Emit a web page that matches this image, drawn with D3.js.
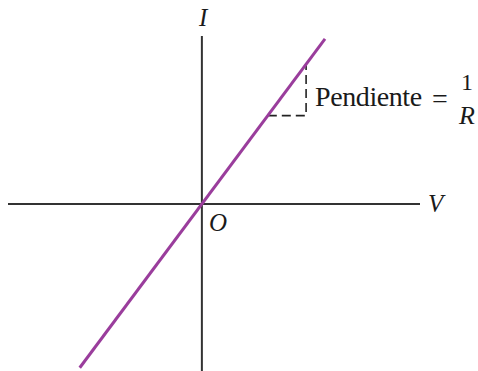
<!DOCTYPE html>
<html>
<head>
<meta charset="utf-8">
<script src="https://cdn.jsdelivr.net/npm/d3@7"></script>
<style>
  body { margin: 0; background: #fff; }
  svg text { font-family: "Liberation Serif", "DejaVu Serif", serif; fill: #1a1a1a; }
  .axis-label { font-style: italic; font-size: 25px; }
</style>
</head>
<body>
<div id="plot"></div>
<script>
// Axis extents (V and I units)
var vAxis = [-4, 4.5];
var iAxis = [-3.45, 3.47];

// Ohmic line: I = V / R, drawn between these V values
var resistance = 0.745;
var lineV = [-2.52, 2.54];

// Slope triangle corners (V values)
var triangleV = [1.36, 2.15];

var width = 478,
    height = 371;

var x = d3.scaleLinear().domain(vAxis).range([8, 420]);
var y = d3.scaleLinear().domain(iAxis).range([371, 36]);

var svg = d3.select('#plot')
    .append('svg')
    .attr('width', width)
    .attr('height', height);

// Axes
svg.append('line')
    .attr('x1', x(vAxis[0])).attr('x2', x(vAxis[1]))
    .attr('y1', y(0)).attr('y2', y(0))
    .attr('stroke', '#333').attr('stroke-width', 2);

svg.append('line')
    .attr('x1', x(0)).attr('x2', x(0))
    .attr('y1', y(iAxis[0])).attr('y2', y(iAxis[1]))
    .attr('stroke', '#333').attr('stroke-width', 2);

// Slope triangle (dashed)
var v0 = triangleV[0], v1 = triangleV[1];
svg.append('path')
    .attr('d', d3.line()([
        [x(v0), y(v0 / resistance)],
        [x(v1), y(v0 / resistance)],
        [x(v1), y(v1 / resistance)]
    ]))
    .attr('fill', 'none')
    .attr('stroke', '#222')
    .attr('stroke-width', 1.6)
    .attr('stroke-dasharray', '9,5');

// I-V line
var lineGen = d3.line()
    .x(function(d) { return x(d); })
    .y(function(d) { return y(d / resistance); });

svg.append('path')
    .datum(lineV)
    .attr('d', lineGen)
    .attr('fill', 'none')
    .attr('stroke', '#9a3d9c')
    .attr('stroke-width', 3);

// Labels
svg.append('text').classed('axis-label', true)
    .attr('x', x(0) - 3).attr('y', 26)
    .text('I');

svg.append('text').classed('axis-label', true)
    .attr('x', 428).attr('y', 212)
    .text('V');

svg.append('text').classed('axis-label', true)
    .attr('x', 209).attr('y', 231)
    .text('O');

svg.append('text')
    .attr('x', x(v1) + 9).attr('y', 106)
    .attr('textLength', 107)
    .style('font-size', '28px')
    .text('Pendiente');

svg.append('text')
    .attr('x', 432).attr('y', 108)
    .style('font-size', '28px')
    .text('=');

svg.append('text')
    .attr('x', 467).attr('y', 90)
    .attr('text-anchor', 'middle')
    .style('font-size', '24px')
    .text('1');

svg.append('text').classed('axis-label', true)
    .attr('x', 467).attr('y', 124)
    .attr('text-anchor', 'middle')
    .style('font-size', '26px')
    .text('R');
</script>
</body>
</html>
